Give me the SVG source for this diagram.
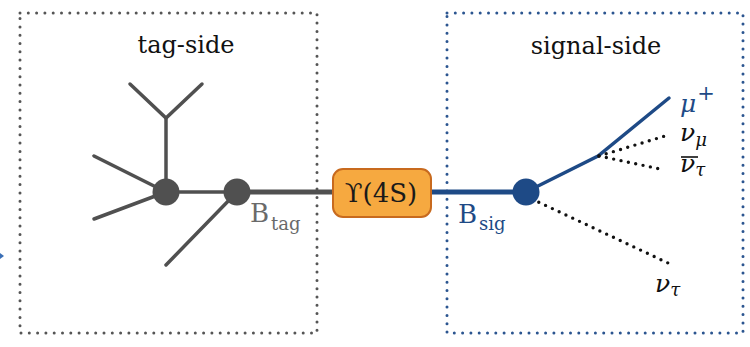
<svg xmlns="http://www.w3.org/2000/svg" width="750" height="347" viewBox="0 0 750 347">
<style>
.title{font-family:"DejaVu Serif","Liberation Serif",serif;font-size:24px;fill:#111;text-anchor:middle}
.lab{font-family:"DejaVu Serif","Liberation Serif",serif;font-size:26px}
.sub{font-size:18px}
.math{font-family:"DejaVu Serif","Liberation Serif",serif;font-style:italic;font-size:25px;fill:#111}
.gl{stroke:#505050;stroke-width:3.5;fill:none;stroke-linecap:round}
.bl{stroke:#1e4a86;stroke-width:3.5;fill:none;stroke-linecap:round}
.dot{stroke:#111;stroke-width:3.4;fill:none;stroke-dasharray:0 7.5;stroke-linecap:round}
.box{fill:none;stroke-width:3;stroke-dasharray:0 8.3;stroke-linecap:round}
</style>
<g id="tag-side-box">
<rect class="box" x="20" y="13" width="297" height="320" stroke="#555"/>
<text class="title" x="186" y="53">tag-side</text>
</g>
<g id="signal-side-box">
<rect class="box" x="447" y="13" width="296" height="320" stroke="#2b5590"/>
<text class="title" x="596" y="54">signal-side</text>
</g>
<g id="connectors">
<line class="gl" x1="166" y1="192" x2="166" y2="118"/>
<polyline class="gl" points="130,84 166,118 202,84"/>
<line class="gl" x1="166" y1="192" x2="94" y2="156"/>
<line class="gl" x1="166" y1="192" x2="94" y2="219"/>
<line class="gl" x1="166" y1="192" x2="237" y2="192"/>
<line class="gl" x1="237" y1="192" x2="166" y2="265"/>
<line x1="237" y1="192" x2="333" y2="192" stroke="#505050" stroke-width="5"/>
<line x1="431" y1="192" x2="526" y2="192" stroke="#1e4a86" stroke-width="5"/>
<polyline class="bl" points="526,192 598,156 669,98"/>
<line class="dot" x1="599" y1="156" x2="665" y2="136"/>
<line class="dot" x1="599" y1="156" x2="665" y2="170"/>
<line class="dot" x1="532" y1="199" x2="668" y2="263"/>
<path d="M0,253 L4,256 L0,259 Z" fill="#3b6fb6"/>
</g>
<g id="vertex-tag">
<circle cx="166" cy="192" r="13.5" fill="#505050"/>
</g>
<g id="B-tag">
<circle cx="237" cy="192" r="13.5" fill="#505050"/>
<text class="lab" x="250" y="222" fill="#6a6a6a">B<tspan class="sub" dx="2" dy="8">tag</tspan></text>
</g>
<g id="upsilon">
<rect x="333" y="169" width="98" height="48" rx="10" fill="#f6a940" stroke="#c86a1e" stroke-width="2"/>
<text class="lab" x="381" y="202" fill="#1a1a1a" text-anchor="middle">ϒ(4S)</text>
</g>
<g id="B-sig">
<circle cx="526" cy="192" r="13.5" fill="#1e4a86"/>
<text class="lab" x="458" y="223" fill="#1e4a86">B<tspan class="sub" dx="2" dy="7">sig</tspan></text>
</g>
<g id="mu">
<text class="math" x="680" y="112" style="fill:#1e4a86">μ<tspan dx="1" dy="-12" style="font-style:normal;font-size:21px">+</tspan></text>
</g>
<g id="nu-mu">
<text class="math" x="680" y="141">ν<tspan class="sub" dy="5">μ</tspan></text>
</g>
<g id="nubar-tau">
<text class="math" x="680" y="172">ν<tspan class="sub" dy="4">τ</tspan></text>
<line x1="681" y1="157" x2="698" y2="157" stroke="#111" stroke-width="1.6"/>
</g>
<g id="nu-tau">
<text class="math" x="655" y="292">ν<tspan class="sub" dy="4">τ</tspan></text>
</g>
</svg>
